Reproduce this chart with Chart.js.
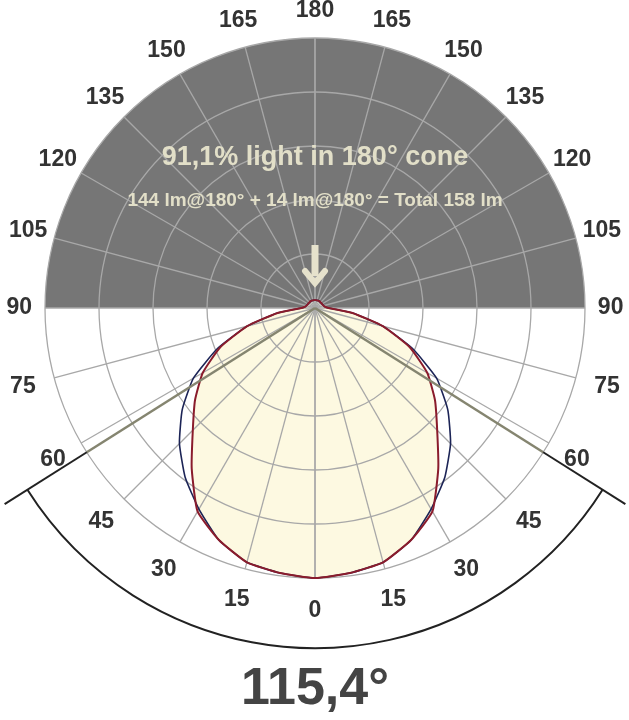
<!DOCTYPE html>
<html>
<head>
<meta charset="utf-8">
<script src="https://cdn.jsdelivr.net/npm/chart.js@4.4.0/dist/chart.umd.min.js"></script>
<style>
  body { margin: 0; background: #fff; }
  canvas { display: block; }
</style>
</head>
<body>
<canvas id="polar" width="629" height="720"></canvas>
<script>
// angle from straight down (deg), relative intensity (1 = outer ring)
const angles = [0, 7.5, 15, 22.5, 30, 37.5, 45, 52.5, 60, 67.5, 75, 82.5, 90, 100, 120, 150, 180];
const redValues = [1.0, 0.99, 0.975, 0.93, 0.87, 0.75, 0.64, 0.56, 0.48, 0.38, 0.26, 0.14, 0.05, 0.035, 0.03, 0.03, 0.03];
const blueValues = [1.0, 0.99, 0.975, 0.93, 0.86, 0.79, 0.71, 0.62, 0.52, 0.39, 0.26, 0.14, 0.05, 0.035, 0.03, 0.03, 0.03];
const tickAngles = [0, 15, 30, 45, 60, 75, 90, 105, 120, 135, 150, 165, 180];
const rings = [0.2, 0.4, 0.6, 0.8, 1.0];
const coneAngle = 115.4;
const title = '91,1% light in 180° cone';
const subtitle = '144 lm@180° + 14 lm@180° = Total 158 lm';
const bigLabel = '115,4°';

const FONT = '"Liberation Sans", Arial, sans-serif';

function toPoints(vals) {
    const pts = [];
    for (let i = angles.length - 1; i >= 0; i--) {
        const a = -angles[i] * Math.PI / 180;
        pts.push({ x: vals[i] * Math.sin(a), y: -vals[i] * Math.cos(a) });
    }
    for (let i = 1; i < angles.length; i++) {
        const a = angles[i] * Math.PI / 180;
        pts.push({ x: vals[i] * Math.sin(a), y: -vals[i] * Math.cos(a) });
    }
    return pts;
}

const redPoints = toPoints(redValues);
const bluePoints = toPoints(blueValues);

function geo(chart) {
    const sx = chart.scales.x, sy = chart.scales.y;
    const cx = sx.getPixelForValue(0), cy = sy.getPixelForValue(0);
    const R = sx.getPixelForValue(1) - cx;
    return { cx, cy, R };
}

function tracePoints(ctx, meta) {
    ctx.beginPath();
    meta.data.forEach((p, i) => i ? ctx.lineTo(p.x, p.y) : ctx.moveTo(p.x, p.y));
    ctx.closePath();
}

const polarGrid = {
    id: 'polarGrid',
    beforeDatasetsDraw(chart) {
        const ctx = chart.ctx;
        const { cx, cy, R } = geo(chart);
        ctx.save();
        // dark upper half
        ctx.fillStyle = '#767676';
        ctx.beginPath();
        ctx.moveTo(cx - R, cy);
        ctx.arc(cx, cy, R, Math.PI, 2 * Math.PI);
        ctx.closePath();
        ctx.fill();

        // cream fill of the beam
        ctx.fillStyle = '#fdf9e1';
        tracePoints(ctx, chart.getDatasetMeta(0));
        ctx.fill();

        // grid
        ctx.lineWidth = 1.3;
        ctx.strokeStyle = '#a8a8a8';
        rings.forEach(r => {
            ctx.beginPath();
            ctx.arc(cx, cy, r * R, 0, 2 * Math.PI);
            ctx.stroke();
        });
        tickAngles.forEach(t => {
            [-1, 1].forEach(s => {
                const a = s * t * Math.PI / 180;
                ctx.beginPath();
                ctx.moveTo(cx, cy);
                ctx.lineTo(cx + R * Math.sin(a), cy + R * Math.cos(a));
                ctx.stroke();
            });
        });
        ctx.restore();
    },
    afterDatasetsDraw(chart) {
        const ctx = chart.ctx;
        const { cx, cy, R } = geo(chart);
        ctx.save();
        const half = coneAngle / 2 * Math.PI / 180;
        // cone lines
        [-1, 1].forEach(s => {
            const dx = s * Math.sin(half), dy = Math.cos(half);
            ctx.lineWidth = 2.5;
            ctx.strokeStyle = '#858570';
            ctx.beginPath();
            ctx.moveTo(cx, cy);
            ctx.lineTo(cx + dx * R, cy + dy * R);
            ctx.stroke();
            ctx.strokeStyle = '#222';
            ctx.lineWidth = 2;
            ctx.beginPath();
            ctx.moveTo(cx + dx * R, cy + dy * R);
            ctx.lineTo(cx + dx * R * 1.36, cy + dy * R * 1.36);
            ctx.stroke();
        });
        // cone arc
        ctx.strokeStyle = '#222';
        ctx.lineWidth = 2;
        ctx.beginPath();
        ctx.arc(cx, cy, R * 1.26, Math.PI / 2 - half, Math.PI / 2 + half);
        ctx.stroke();

        // angle labels
        ctx.fillStyle = '#333';
        ctx.font = 'bold 23px ' + FONT;
        ctx.textAlign = 'center';
        ctx.textBaseline = 'middle';
        tickAngles.forEach(t => {
            [-1, 1].forEach(s => {
                if (s === 1 && (t === 0 || t === 180)) return;
                const a = s * t * Math.PI / 180;
                const rr = t > 90 ? 1.1 : (t === 90 ? 1.095 : 1.12);
                ctx.fillText(String(t), cx + R * rr * Math.sin(a), cy + R * rr * Math.cos(a));
            });
        });

        // arrow
        ctx.strokeStyle = '#e6e2cc';
        ctx.lineWidth = 7;
        ctx.beginPath();
        ctx.moveTo(cx, cy - 63);
        ctx.lineTo(cx, cy - 32);
        ctx.stroke();
        ctx.lineWidth = 6;
        ctx.lineCap = 'round';
        ctx.beginPath();
        ctx.moveTo(cx - 10, cy - 37);
        ctx.lineTo(cx, cy - 25);
        ctx.lineTo(cx + 10, cy - 37);
        ctx.stroke();

        // texts
        ctx.fillStyle = '#e2dfc8';
        ctx.font = 'bold 27px ' + FONT;
        ctx.fillText(title, cx, cy - 150);
        ctx.font = 'bold 19px ' + FONT;
        ctx.fillText(subtitle, cx, cy - 107);
        ctx.fillStyle = '#444';
        ctx.font = 'bold 52px ' + FONT;
        ctx.fillText(bigLabel, cx, cy + 382);
        ctx.restore();
    }
};

new Chart(document.getElementById('polar'), {
    type: 'scatter',
    data: {
        datasets: [{
            label: 'Red',
            data: redPoints,
            showLine: true,
            borderColor: '#8a1c2c',
            borderWidth: 2,
            pointRadius: 0,
            tension: 0.15
        },
        {
            label: 'Blue',
            data: bluePoints,
            showLine: true,
            borderColor: '#1c2456',
            borderWidth: 1.6,
            pointRadius: 0,
            tension: 0.15
        }]
    },
    plugins: [polarGrid],
    options: {
        responsive: false,
        animation: false,
        layout: { padding: 0 },
        plugins: {
            legend: { display: false },
            tooltip: { enabled: false }
        },
        scales: {
            x: { display: false, min: -315 / 270, max: 314 / 270 },
            y: { display: false, min: -412 / 270, max: 308 / 270 }
        }
    }
});
</script>
</body>
</html>
